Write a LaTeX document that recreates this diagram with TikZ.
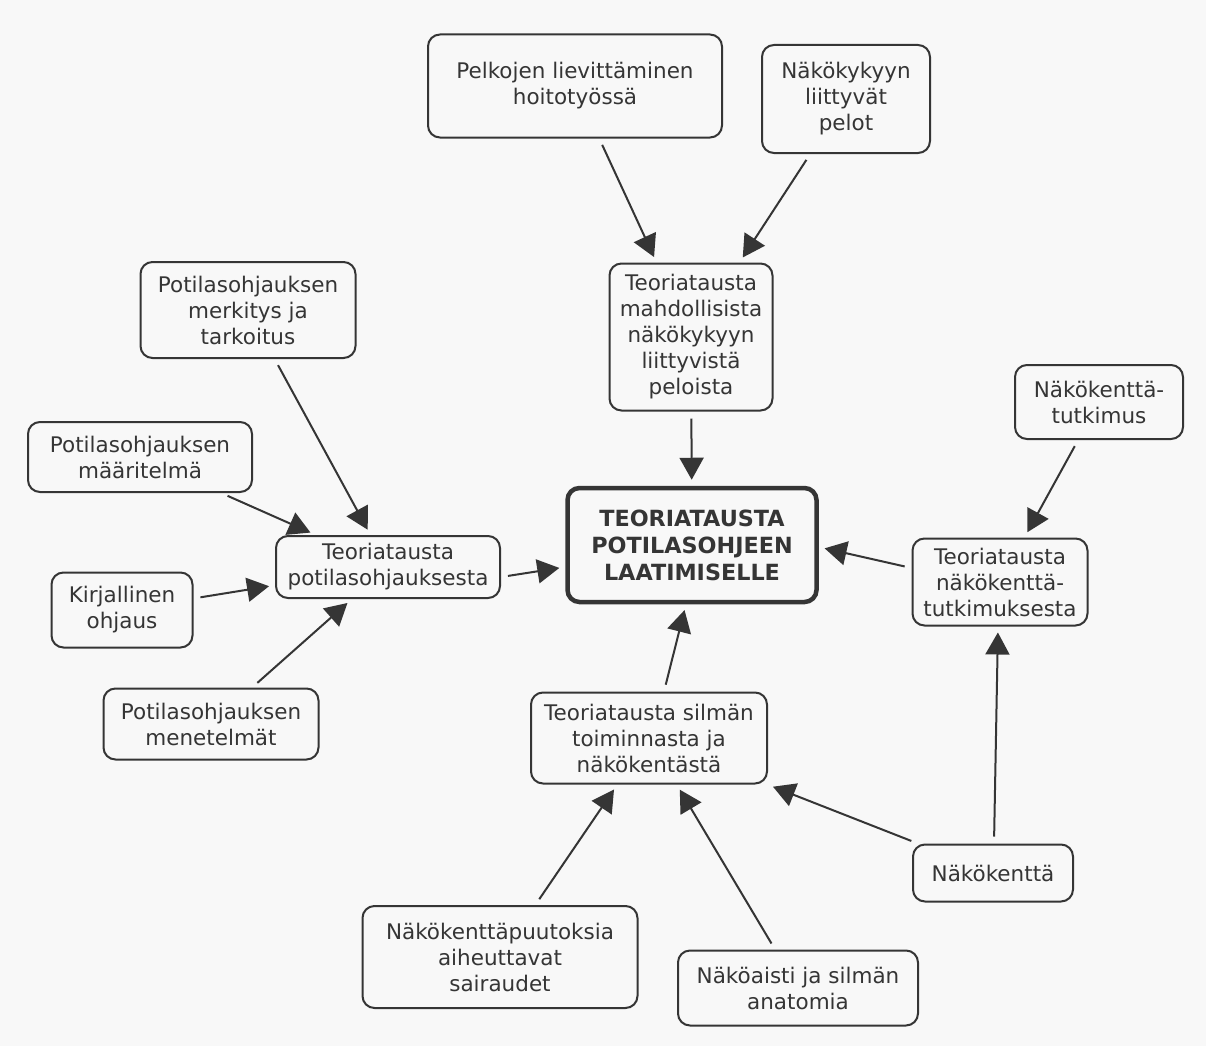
\documentclass[tikz,border=0pt]{standalone}
\usepackage{fontspec}
\setmainfont{DejaVu Sans}
\usetikzlibrary{arrows.meta}
\definecolor{ink}{HTML}{353535}
\definecolor{paper}{HTML}{F8F8F8}
\tikzset{box/.style= {draw=ink, fill=paper, line width=2pt, rounded corners=12pt, align=center, text=ink, inner sep=3pt, font=\fontsize{21.5}{26}\selectfont}}
\tikzset{mainbox/.style= {box, line width=4.5pt, font=\bfseries\fontsize{22.3}{27}\selectfont}}
\tikzset{arr/.style= {draw=ink, line width=2pt, -{Triangle[length=22pt,width=24pt]}, shorten >=6pt, shorten <=7pt}}

\begin{document}
\begin{tikzpicture}[x=1pt, y=-1pt]
        \fill[paper](0,0) rectangle (1206,1046);
        \useasboundingbox(0,0) rectangle (1206,1046);

        \node[mainbox, minimum width=249pt, minimum height=114pt](teoria)at(692,545){TEORIATAUSTA\\POTILASOHJEEN\\LAATIMISELLE};

        \node[box, minimum width=294pt, minimum height=103pt](pelko)at(575,86){Pelkojen lievittäminen\\hoitotyössä};
        \node[box, minimum width=168pt, minimum height=108pt](pelot)at(846,99){Näkökykyyn\\liittyvät\\pelot};
        \node[box, minimum width=163pt, minimum height=147pt](teorpel)at(691,337){Teoriatausta\\mahdollisista\\näkökykyyn\\liittyvistä\\peloista};

        \node[box, minimum width=215pt, minimum height=96pt](merkitys)at(248,310){Potilasohjauksen\\merkitys ja\\tarkoitus};
        \node[box, minimum width=224pt, minimum height=70pt](maaritelma)at(140,457){Potilasohjauksen\\määritelmä};
        \node[box, minimum width=224pt, minimum height=62pt](teorpot)at(388,567){Teoriatausta\\potilasohjauksesta};
        \node[box, minimum width=141pt, minimum height=75pt](kirjallinen)at(122,610){Kirjallinen\\ohjaus};
        \node[box, minimum width=215pt, minimum height=71pt](menetelmat)at(211,724){Potilasohjauksen\\menetelmät};

        \node[box, minimum width=168pt, minimum height=74pt](tutkimus)at(1099,402){Näkökenttä-\\tutkimus};
        \node[box, minimum width=175pt, minimum height=87pt](teornak)at(1000,582){Teoriatausta\\näkökenttä-\\tutkimuksesta};
        \node[box, minimum width=160pt, minimum height=57pt](nakokentta)at(993,873){Näkökenttä};

        \node[box, minimum width=236pt, minimum height=91pt](silman)at(649,738){Teoriatausta silmän\\toiminnasta ja\\näkökentästä};
        \node[box, minimum width=275pt, minimum height=102pt](sairaudet)at(500,957){Näkökenttäpuutoksia\\aiheuttavat\\sairaudet};
        \node[box, minimum width=240pt, minimum height=75pt](anatomia)at(798,988){Näköaisti ja silmän\\anatomia};

        \draw[arr](pelko)--(teorpel);
        \draw[arr](pelot)--(teorpel);
        \draw[arr](teorpel)--(teoria);

        \draw[arr](merkitys)--(teorpot);
        \draw[arr](maaritelma)--(teorpot);
        \draw[arr](kirjallinen)--(teorpot);
        \draw[arr](menetelmat)--(teorpot);
        \draw[arr]([yshift=-10pt]teorpot.east)--([yshift=-22pt]teoria.west);

        \draw[arr](tutkimus)--(teornak);
        \draw[arr]([yshift=14pt]teornak.west)--([yshift=-2pt]teoria.east);
        \draw[arr]([xshift=1pt]nakokentta.north)--([xshift=-2pt]teornak.south);

        \draw[arr](nakokentta)--(silman);
        \draw[arr](sairaudet)--(silman);
        \draw[arr](anatomia)--(silman);
        \draw[arr]([xshift=15pt]silman.north)--([xshift=-6pt]teoria.south);
    \end{tikzpicture}
\end{document}
